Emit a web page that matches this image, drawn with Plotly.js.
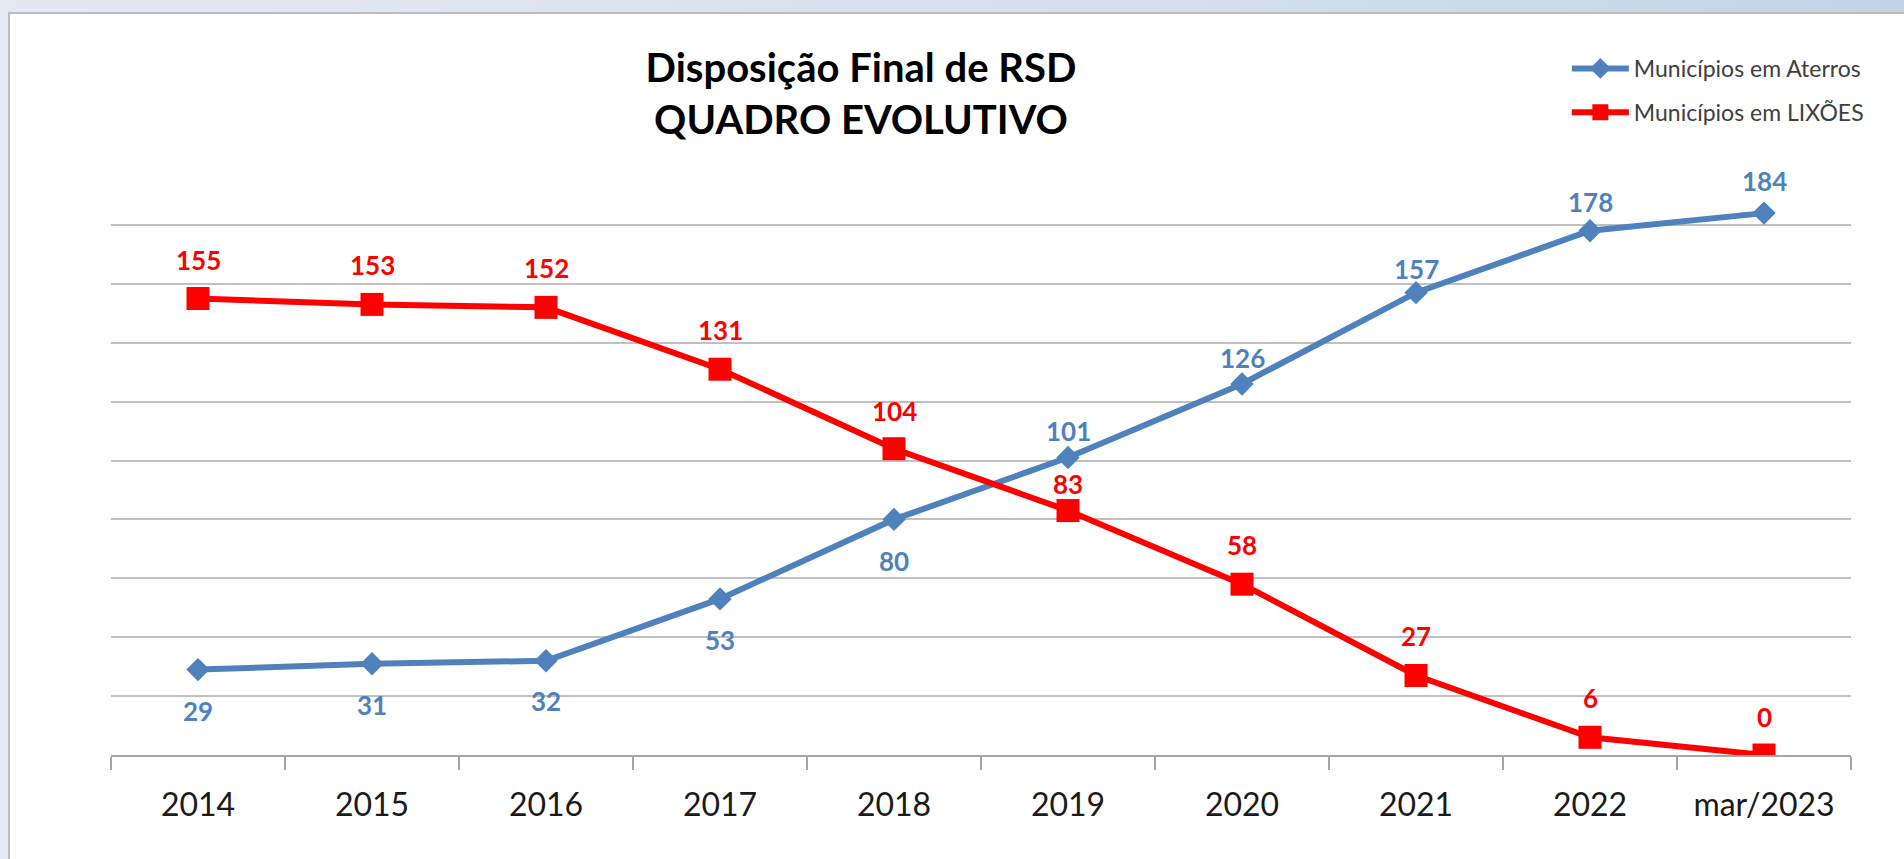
<!DOCTYPE html>
<html>
<head>
<meta charset="utf-8">
<script src="https://cdn.plot.ly/plotly-3.0.1.min.js"></script>
<style>
  html, body { margin: 0; padding: 0; width: 1904px; height: 859px; overflow: hidden;
    background: linear-gradient(to right, #e3e9f0 0%, #d6e0eb 60%, #c3d3e6 100%); }
  #frame { position: absolute; left: 8px; top: 12px; width: 1896px; height: 847px;
    background: #ffffff; border-left: 2px solid #bcbcbc; border-top: 2px solid #bcbcbc; }
  #chart { position: absolute; left: 0; top: 0; width: 1894px; height: 845px; }
</style>
</head>
<body>
<div id="frame"><div id="chart"></div></div>
<script>
// ---- data ----
const categories = ['2014', '2015', '2016', '2017', '2018', '2019', '2020', '2021', '2022', 'mar/2023'];
const aterros = [29, 31, 32, 53, 80, 101, 126, 157, 178, 184];
const lixoes = [155, 153, 152, 131, 104, 83, 58, 27, 6, 0];
const seriesNames = ['Municípios em Aterros', 'Municípios em LIXÕES'];
const titleLines = ['Disposição Final de RSD', 'QUADRO EVOLUTIVO'];

// ---- style ----
const blue = '#4f81bd';
const red = '#ff0000';
const aterrosLabelShift = [-41, -41, -40, -41, -42, 27, 26, 24, 29, 32];
const lixoesLabelShift = [39, 39, 39, 39, 38, 27, 39, 39, 39, 38];

const traces = [
  {
    x: categories, y: aterros, name: seriesNames[0], type: 'scatter', mode: 'lines+markers',
    line: { color: blue, width: 6 },
    marker: { symbol: 'diamond', size: 18, color: blue },
    legendgroup: 'a', hoverinfo: 'x+y'
  },
  {
    x: categories, y: lixoes, name: seriesNames[1], type: 'scatter', mode: 'lines+markers',
    line: { color: red, width: 6 },
    marker: { symbol: 'square', size: 23, color: red },
    legendgroup: 'b', hoverinfo: 'x+y'
  }
];

const annotations = [];
categories.forEach((c, i) => {
  annotations.push({
    x: i, y: aterros[i], xref: 'x', yref: 'y', text: String(aterros[i]),
    showarrow: false, yshift: aterrosLabelShift[i],
    font: { family: 'Lato, sans-serif', size: 26, color: blue, weight: 'bold' }
  });
  annotations.push({
    x: i, y: lixoes[i], xref: 'x', yref: 'y', text: String(lixoes[i]),
    showarrow: false, yshift: lixoesLabelShift[i],
    font: { family: 'Lato, sans-serif', size: 26, color: red, weight: 'bold' }
  });
});

const layout = {
  width: 1894, height: 845,
  margin: { l: 101, r: 53, t: 152, b: 104, autoexpand: false },
  paper_bgcolor: '#ffffff', plot_bgcolor: '#ffffff',
  font: { family: 'Lato, sans-serif', color: '#1a1a1a' },
  title: {
    text: titleLines.join('<br>'),
    font: { family: 'Lato, sans-serif', size: 40, color: '#000000', weight: 'bold' },
    xref: 'container', yref: 'container', x: 0.4493, xanchor: 'center',
    y: 0.92, yanchor: 'middle', automargin: false
  },
  xaxis: {
    type: 'category', range: [-0.5, 9.5],
    showline: true, linecolor: '#a6a6a6', linewidth: 2,
    ticks: 'outside', tickson: 'boundaries', ticklen: 13, tickwidth: 2, tickcolor: '#a6a6a6',
    showgrid: false, zeroline: false, tickangle: 0, automargin: false,
    ticklabelstandoff: 21,
    tickfont: { family: 'Lato, sans-serif', size: 32, color: '#1a1a1a' },
    fixedrange: true
  },
  yaxis: {
    range: [0, 200], dtick: 20, tick0: 0,
    showgrid: true, gridcolor: '#c0c0c0', gridwidth: 2,
    showticklabels: false, zeroline: false, showline: false, ticks: '',
    fixedrange: true
  },
  showlegend: true,
  legend: {
    xref: 'container', yref: 'container', x: 0.822, y: 0.961, xanchor: 'left', yanchor: 'top',
    bgcolor: 'rgba(0,0,0,0)', borderwidth: 0,
    font: { family: 'Lato, sans-serif', size: 23, color: '#404040' },
    traceorder: 'grouped', tracegroupgap: 11, itemwidth: 57
  },
  annotations: annotations
};

Plotly.newPlot('chart', traces, layout, { displayModeBar: false, staticPlot: true });
</script>
</body>
</html>
